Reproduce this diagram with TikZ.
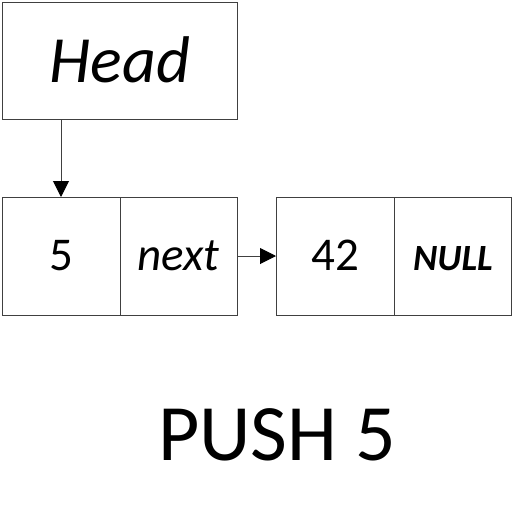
\documentclass[tikz,border=0pt]{standalone}
\usepackage{fontspec}
\setmainfont{Carlito}
\usetikzlibrary{arrows.meta}
\definecolor{linegray}{RGB}{64,64,64}
\tikzset{
  cell/.style={draw=linegray, line width=1pt},
  ptr/.style={draw=linegray, line width=1pt, -{Triangle[width=16pt,length=16pt,color=black]}},
  celltext/.style={anchor=base, inner sep=0pt, font=\fontsize{47}{50}\selectfont},
}
\begin{document}
\begin{tikzpicture}[x=1pt,y=-1pt]
\useasboundingbox (0,0) rectangle (515,525);
% boxes
\draw[cell] (2,2) rectangle (237,119);
\node[celltext, font=\fontsize{66}{70}\selectfont\itshape] (headtxt) at (120,82) {Head};
\coordinate (headbot) at (61,119);
\draw[cell] (2,197) rectangle (120,315);
\draw[cell] (120,197) rectangle (237,315);
\draw[cell] (276,197) rectangle (394,315);
\draw[cell] (394,197) rectangle (511,315);
\coordinate (cell1top) at (61,197);
\coordinate (cell2right) at (237,256);
\coordinate (cell3left) at (276,256);
\node[celltext] (v5) at (61,270) {5};
\node[celltext, font=\fontsize{47}{50}\selectfont\itshape] (nxt) at (178.5,270) {next};
\node[celltext] (v42) at (335,270) {42};
\node[celltext, font=\fontsize{37}{40}\selectfont\bfseries\itshape] (nul) at (453,270) {NULL};
\draw[ptr] (headbot) -- (cell1top);
\draw[ptr] (cell2right) -- (cell3left);
\node[anchor=base, inner sep=0pt, font=\fontsize{80}{84}\selectfont] (title) at (277,460) {PUSH 5};
\end{tikzpicture}
\end{document}
